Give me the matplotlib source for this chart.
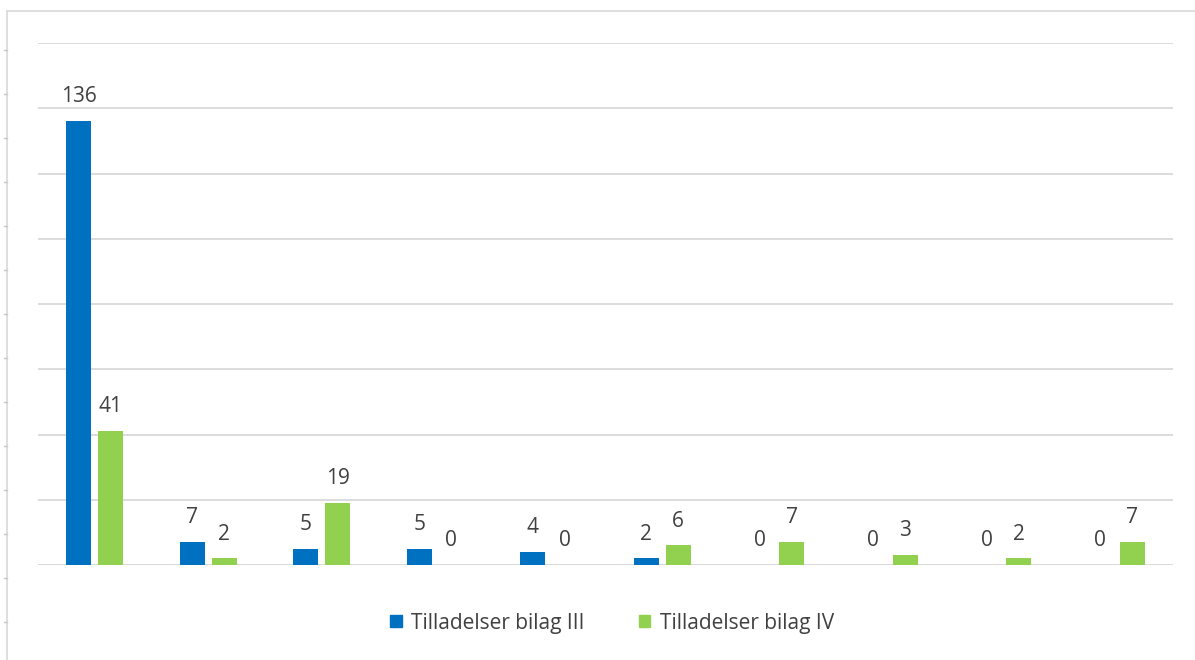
import matplotlib as mpl
mpl.use('Agg')
import matplotlib.pyplot as plt
import numpy as np
from matplotlib.lines import Line2D

categories = ['1', '2', '3', '4', '5', '6', '7', '8', '9', '10']
bilag_iii = [136, 7, 5, 5, 4, 2, 0, 0, 0, 0]
bilag_iv = [41, 2, 19, 0, 0, 6, 7, 3, 2, 7]
series_names = ['Tilladelser bilag III', 'Tilladelser bilag IV']
colors = ['#0070C0', '#92D050']

plt.rcParams['font.family'] = ['Open Sans', 'DejaVu Sans']
text_color = '#404040'

fig = plt.figure(figsize=(11.95, 6.6), dpi=100)
ax = fig.add_axes([38 / 1195, 1 - 565 / 660, (1173 - 38) / 1195, (565 - 43) / 660])

x = np.arange(len(categories))
w = 0.22
off = 0.141
b1 = ax.bar(x - off, bilag_iii, w, color=colors[0], zorder=3)
b2 = ax.bar(x + off, bilag_iv, w, color=colors[1], zorder=3)
for bars in (b1, b2):
    ax.bar_label(bars, padding=10, fontsize=15, color=text_color)

ax.set_xlim(-0.5, len(categories) - 0.5)
ax.set_ylim(0, 160)
ax.set_yticks(np.arange(0, 161, 20))
ax.yaxis.grid(True, color='#D9D9D9', linewidth=1.3, zorder=0)
ax.tick_params(left=False, bottom=False, labelleft=False, labelbottom=False)
for s in ax.spines.values():
    s.set_visible(False)
ax.axhline(0, color='#D9D9D9', linewidth=1.3, zorder=2)

# sheet frame and row markers around the chart
fig.add_artist(Line2D([7 / 1195, 7 / 1195], [0, 1 - 11 / 660], color='#D9D9D9', lw=1.2))
fig.add_artist(Line2D([7 / 1195, 1], [1 - 11 / 660, 1 - 11 / 660], color='#D9D9D9', lw=1.2))
for yy in np.arange(50, 660, 44):
    fig.add_artist(Line2D([4 / 1195, 7 / 1195], [1 - yy / 660, 1 - yy / 660], color='#C8C8C8', lw=1))

handles = [plt.Rectangle((0, 0), 1, 1, color=c) for c in colors]
fig.legend(handles, series_names, loc='center', bbox_to_anchor=(612 / 1195, 1 - 623 / 660),
           ncol=2, frameon=False, fontsize=15, labelcolor=text_color,
           handlelength=0.55, handleheight=0.55, handletextpad=0.45, columnspacing=2.6)

fig.savefig('out.png', dpi=100)
